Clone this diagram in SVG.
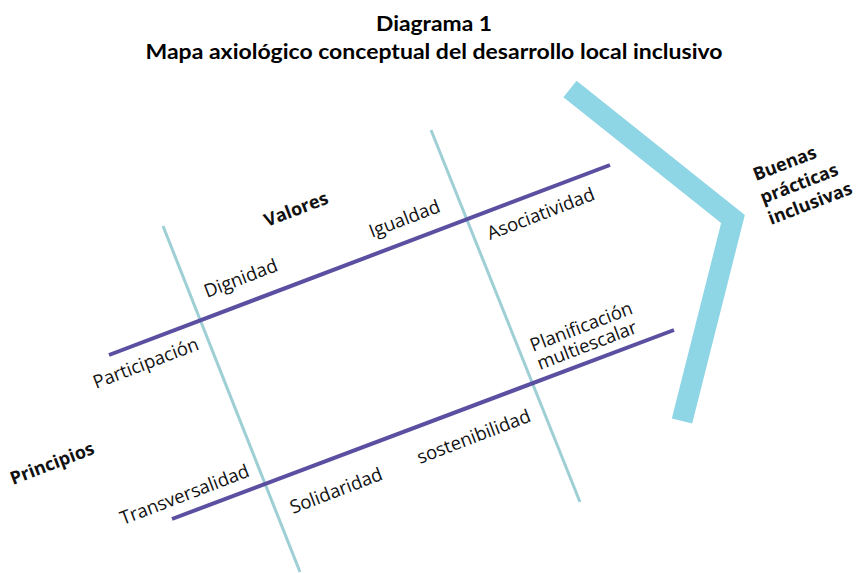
<svg xmlns="http://www.w3.org/2000/svg" width="857" height="573" viewBox="0 0 857 573">
<style>
.title{font-family:"Lato","Open Sans",sans-serif;font-weight:bold;font-size:21px;fill:#000;text-anchor:middle}
.lbl{font-family:"Open Sans","Noto Sans",sans-serif;font-size:18.5px;fill:#111}
.bold{font-family:"Open Sans","Noto Sans",sans-serif;font-weight:bold;font-size:18px;fill:#111}
.axis{stroke:#5A4FA0;stroke-width:4;fill:none}
.rib{stroke:#9ECFD5;stroke-width:3;fill:none}
.head{stroke:#8ED5E6;stroke-width:21;fill:none;stroke-linejoin:miter;stroke-linecap:butt}
</style>
<rect width="857" height="573" fill="#fff"/>
<g id="title">
<text class="title" x="434" y="31" textLength="116" lengthAdjust="spacingAndGlyphs">Diagrama 1</text>
<text class="title" x="434" y="59" textLength="577" lengthAdjust="spacingAndGlyphs">Mapa axiológico conceptual del desarrollo local inclusivo</text>
</g>
<g id="connectors">
<line class="rib" x1="163" y1="226" x2="300" y2="572"/>
<line class="rib" x1="431" y1="130" x2="580" y2="502"/>
<line class="axis" x1="109" y1="355" x2="610" y2="165"/>
<line class="axis" x1="172" y1="519" x2="674" y2="330"/>
<polyline class="head" points="570,89 733,219 682,421"/>
</g>
<g id="valores"><text class="bold" x="267" y="227" transform="rotate(-21 267 227)">Valores</text></g>
<g id="principios"><text class="bold" x="13" y="485" transform="rotate(-21 13 485)">Principios</text></g>
<g id="buenas">
<text class="bold" x="756" y="181" transform="rotate(-21 756 181)">Buenas</text>
<text class="bold" x="763" y="204" transform="rotate(-21 763 204)">prácticas</text>
<text class="bold" x="771" y="225" transform="rotate(-21 771 225)">inclusivas</text>
</g>
<g id="dignidad"><text class="lbl" x="207" y="298" transform="rotate(-21 207 298)">Dignidad</text></g>
<g id="participacion"><text class="lbl" x="96" y="389" transform="rotate(-21 96 389)">Participación</text></g>
<g id="igualdad"><text class="lbl" x="372" y="238" transform="rotate(-21 372 238)">Igualdad</text></g>
<g id="asociatividad"><text class="lbl" x="490" y="240" transform="rotate(-21 490 240)">Asociatividad</text></g>
<g id="planificacion">
<text class="lbl" x="533" y="352" transform="rotate(-21 533 352)">Planificación</text>
<text class="lbl" x="540" y="370" transform="rotate(-21 540 370)">multiescalar</text>
</g>
<g id="sostenibilidad"><text class="lbl" x="420" y="464" transform="rotate(-21 420 464)">sostenibilidad</text></g>
<g id="transversalidad"><text class="lbl" x="123" y="525" transform="rotate(-21 123 525)">Transversalidad</text></g>
<g id="solidaridad"><text class="lbl" x="293" y="514" transform="rotate(-21 293 514)">Solidaridad</text></g>
</svg>
